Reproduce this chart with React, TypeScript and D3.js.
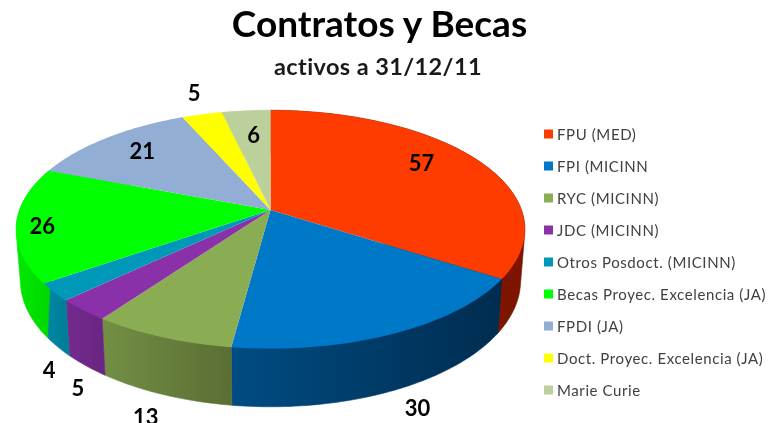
import React from "react";
import * as d3 from "d3";

const categories = ["FPU (MED)", "FPI (MICINN", "RYC (MICINN)", "JDC (MICINN)", "Otros Posdoct. (MICINN)", "Becas Proyec. Excelencia (JA)", "FPDI (JA)", "Doct. Proyec. Excelencia (JA)", "Marie Curie"];
const values = [57, 30, 13, 5, 4, 26, 21, 5, 6];
const topColors = ["#ff3c00", "#0078c8", "#8aac52", "#8a30a8", "#0098b8", "#00ff00", "#92aed4", "#ffff00", "#bcd09c"];
const sideLeft = ["#8f1c00", "#004c82", "#738f45", "#742a8e", "#0088a6", "#00e800", "#92aed4", "#ffff00", "#bcd09c"];
const sideRight = ["#7c1400", "#002c50", "#5a6e33", "#6a2682", "#007e98", "#00d800", "#92aed4", "#ffff00", "#bcd09c"];
// label placement: radial fraction, then nudge in px
const labelPlace = [[0.8, -15, -6], [1, 23.5, 74], [1, -16, 79], [1, -5, 78], [1, -5, 77], [0.88, -5, 3], [0.8, 5, -1], [1, -8, -22], [0.75, 2, 2]];

const W = 770, H = 423;
const CX = 270.5, CY = 210, RX = 251, RY = 116, P = 0.163;
const FONT = "Lato, 'Open Sans', sans-serif";

const project = (a: number, r = 1): [number, number] => {
  const s = 1 / (1 + P * r * Math.cos(a));
  return [CX + RX * r * Math.sin(a) * s, CY - RY * r * Math.cos(a) * s];
};
const lower = ([x, y]: [number, number]): [number, number] => [CX + (x - CX) * 0.983, CY + 50 + (y - CY) * 1.059];
const sample = (a0: number, a1: number) => {
  const n = Math.max(2, Math.ceil((a1 - a0) / 0.02));
  return d3.range(n + 1).map((i) => a0 + ((a1 - a0) * i) / n);
};
const line = d3.line<[number, number]>();
const slices = d3.pie<number>().sort(null).startAngle(0).endAngle(2 * Math.PI)(values);

export default function App() {
  const legendY = d3.scalePoint<string>().domain(categories).range([134, 390]);
  return (
    <svg width={W} height={H} viewBox={`0 0 ${W} ${H}`} style={{ position: "absolute", left: 0, top: 0, background: "#fff", filter: "blur(0.6px)" }}>
      <defs>
        {slices.map((d, i) => {
          const pts = sample(d.startAngle, d.endAngle).map((a) => project(a));
          const [x0, x1] = d3.extent(pts, (p) => p[0]) as [number, number];
          return (
            <linearGradient key={i} id={`side${i}`} gradientUnits="userSpaceOnUse" x1={x0} x2={x1} y1={0} y2={0}>
              <stop offset="0" stopColor={sideLeft[i]} />
              <stop offset="1" stopColor={sideRight[i]} />
            </linearGradient>
          );
        })}
      </defs>
      <text x={379.5} y={37} textAnchor="middle" fontFamily={FONT} fontWeight={700} fontSize={37} fill="#000">Contratos y Becas</text>
      <text x={378} y={75} textAnchor="middle" fontFamily={FONT} fontWeight={700} fontSize={23.5} letterSpacing={0.4} fill="#1a1a1a">activos a 31/12/11</text>
      {slices.map((d, i) => {
        const top = sample(d.startAngle, d.endAngle).map((a) => project(a));
        const hull = d3.polygonHull([...top, ...top.map(lower)])!;
        return <path key={i} d={line(hull)! + "Z"} fill={`url(#side${i})`} stroke={`url(#side${i})`} strokeWidth={0.6} />;
      })}
      {slices.map((d, i) => {
        const top = sample(d.startAngle, d.endAngle).map((a) => project(a));
        return <path key={i} d={line([[CX, CY], ...top])! + "Z"} fill={topColors[i]} />;
      })}
      {slices.map((d, i) => {
        const [r, dx, dy] = labelPlace[i];
        const [x, y] = project((d.startAngle + d.endAngle) / 2, r);
        return (
          <text key={i} x={x + dx} y={y + dy} textAnchor="middle" dominantBaseline="central" fontFamily={FONT} fontWeight={700} fontSize={22} fill="#000">
            {d.value}
          </text>
        );
      })}
      {categories.map((c, i) => (
        <g key={c}>
          <rect x={544} y={legendY(c)! - 4.5} width={9} height={9} fill={topColors[i]} />
          <text x={557} y={legendY(c)!} dominantBaseline="central" fontFamily={FONT} fontSize={15} letterSpacing={0.6} fill="#404040">{c}</text>
        </g>
      ))}
    </svg>
  );
}
